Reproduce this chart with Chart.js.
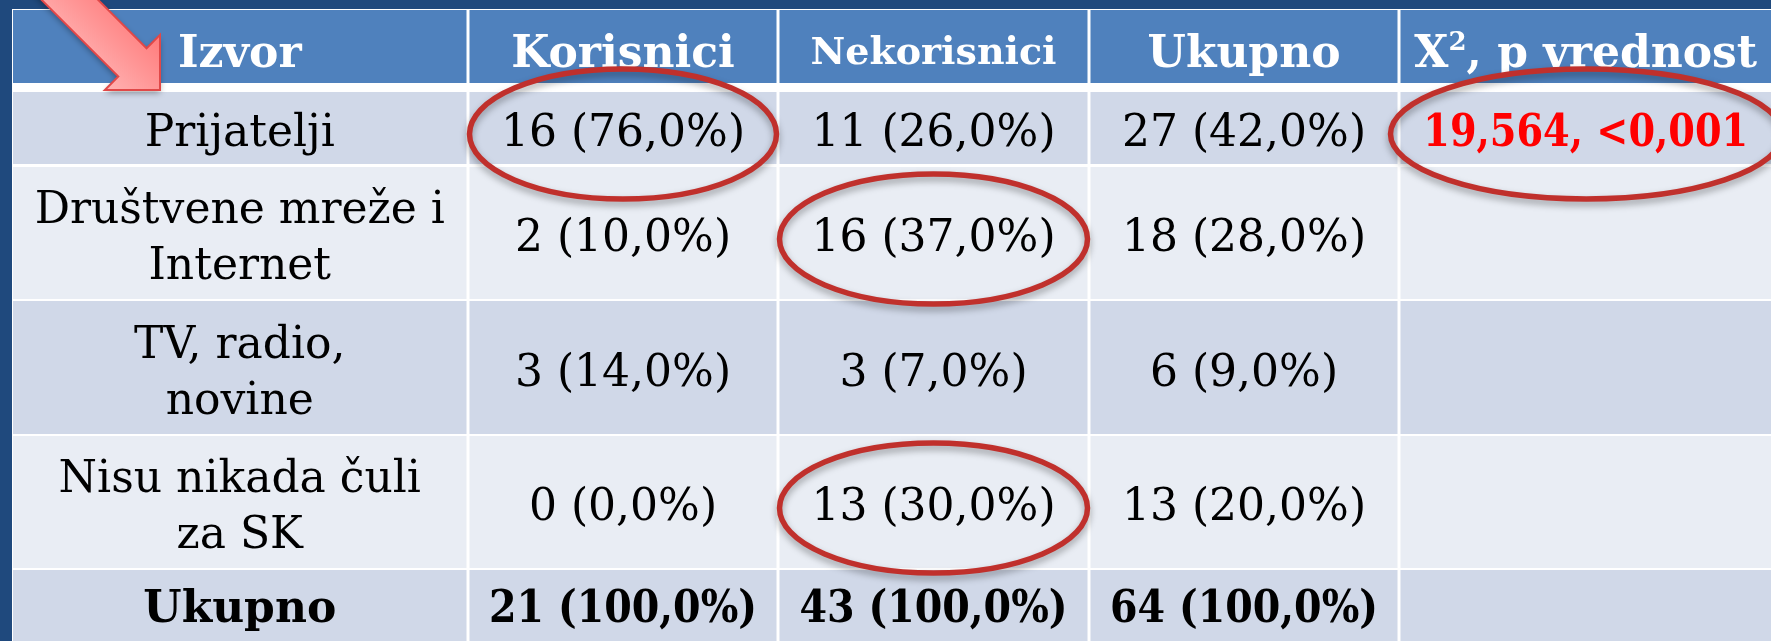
<!DOCTYPE html>
<html>
<head>
<meta charset="utf-8">
<script src="https://cdn.jsdelivr.net/npm/chart.js@4.4.0/dist/chart.umd.min.js"></script>
<style>
  html, body { margin: 0; padding: 0; background: #1f497d; overflow: hidden; }
  canvas { display: block; }
</style>
</head>
<body>
<canvas id="tabela" width="1771" height="641"></canvas>
<script>
// podaci iz tabele
const headers = ["Izvor", "Korisnici", "Nekorisnici", "Ukupno", "X², p vrednost"];
const sources = ["Prijatelji", "Društvene mreže i\nInternet", "TV, radio,\nnovine", "Nisu nikada čuli\nza SK", "Ukupno"];
const korisnici = [16, 2, 3, 0, 21];
const korisniciPct = [76.0, 10.0, 14.0, 0.0, 100.0];
const nekorisnici = [11, 16, 3, 13, 43];
const nekorisniciPct = [26.0, 37.0, 7.0, 30.0, 100.0];
const ukupno = [27, 18, 6, 13, 64];
const ukupnoPct = [42.0, 28.0, 9.0, 20.0, 100.0];
const hiKvadrat = ["19,564, <0,001", "", "", "", ""];
// zaokruzene celije [red, kolona], red 1 = Prijatelji
const istaknuto = [[1, 1], [2, 2], [4, 2], [1, 4]];

// raspored (u jedinicama skale)
const colEdges = [13, 468, 778, 1089, 1399, 1800];
const rowBands = [[10, 83], [92, 164], [167, 299], [301, 434], [436, 568], [570, 680]];

function fmt(n, p) {
  return n + " (" + p.toFixed(1).replace(".", ",") + "%)";
}

const FONT = "'DejaVu Serif', serif";

function cellRect(chart, r, c) {
  const x = chart.scales.x, y = chart.scales.y;
  const x0 = x.getPixelForValue(colEdges[c]) + (c > 0 ? 1.5 : 0);
  const x1 = x.getPixelForValue(colEdges[c + 1]) - 1.5;
  const y0 = y.getPixelForValue(rowBands[r][0]);
  const y1 = y.getPixelForValue(rowBands[r][1]);
  return { x0, x1, y0, y1, cx: (x0 + x1) / 2, cy: (y0 + y1) / 2 };
}

function drawLines(ctx, text, cx, cy, size, bold, color, maxW) {
  const lines = text.split("\n");
  const lh = size * 1.27;
  const cap = size * 0.73;
  ctx.font = (bold ? "bold " : "") + size + "px " + FONT;
  ctx.fillStyle = color;
  ctx.textAlign = "center";
  ctx.textBaseline = "alphabetic";
  const off = (lines.length - 1) * lh / 2;
  lines.forEach((ln, i) => {
    ctx.fillText(ln, cx, cy - off + i * lh + cap / 2, maxW);
  });
}

function drawHeader(ctx, text, cx, cy, size) {
  ctx.font = "bold " + size + "px " + FONT;
  ctx.fillStyle = "#ffffff";
  ctx.textBaseline = "alphabetic";
  const cap = size * 0.73;
  const base = cy + cap / 2;
  if (text.indexOf("²") < 0) {
    ctx.textAlign = "center";
    ctx.fillText(text, cx, base);
    return;
  }
  const parts = text.split("²");
  const supFont = "bold " + Math.round(size * 0.6) + "px " + FONT;
  const w1 = ctx.measureText(parts[0]).width;
  const w3 = ctx.measureText(parts[1]).width;
  ctx.font = supFont;
  const w2 = ctx.measureText("2").width;
  let x = cx - (w1 + w2 + w3) / 2;
  ctx.textAlign = "left";
  ctx.font = "bold " + size + "px " + FONT;
  ctx.fillText(parts[0], x, base);
  x += w1;
  ctx.font = supFont;
  ctx.fillText("2", x, base - size * 0.38);
  x += w2;
  ctx.font = "bold " + size + "px " + FONT;
  ctx.fillText(parts[1], x, base);
}

const tablePlugin = {
  id: "tabela",
  beforeDraw(chart) {
    const ctx = chart.ctx;
    const x = chart.scales.x, y = chart.scales.y;
    ctx.save();
    ctx.fillStyle = "#1f497d";
    ctx.fillRect(0, 0, chart.width, chart.height);
    // bela osnova (linije)
    ctx.fillStyle = "#ffffff";
    ctx.fillRect(x.getPixelForValue(colEdges[0]) - 1, y.getPixelForValue(rowBands[0][0]) - 1,
      chart.width, chart.height);

    const cols = [
      sources,
      korisnici.map((n, i) => fmt(n, korisniciPct[i])),
      nekorisnici.map((n, i) => fmt(n, nekorisniciPct[i])),
      ukupno.map((n, i) => fmt(n, ukupnoPct[i])),
      hiKvadrat
    ];

    for (let r = 0; r < rowBands.length; r++) {
      for (let c = 0; c < headers.length; c++) {
        const rc = cellRect(chart, r, c);
        if (r === 0) ctx.fillStyle = "#4f81bd";
        else ctx.fillStyle = r % 2 === 1 ? "#d0d8e8" : "#e9edf4";
        ctx.fillRect(rc.x0, rc.y0, rc.x1 - rc.x0, rc.y1 - rc.y0);
      }
    }

    // zaglavlje
    headers.forEach((h, c) => {
      const rc = cellRect(chart, 0, c);
      const size = c === 2 ? 38 : 44;
      const cx = c === 4 ? (rc.x0 + x.getPixelForValue(1771)) / 2 : rc.cx;
      drawHeader(ctx, h, cx, rc.cy + 4, size);
    });

    // telo tabele
    for (let r = 1; r < rowBands.length; r++) {
      const last = r === rowBands.length - 1;
      const rowY = last ? (rowBands[r][0] + 641) / 2 : null;
      for (let c = 0; c < headers.length; c++) {
        const txt = cols[c][r - 1];
        if (!txt) continue;
        const rc = cellRect(chart, r, c);
        const cy = last ? y.getPixelForValue(rowY) : rc.cy + 2;
        let cx = rc.cx;
        let color = "#000000";
        let bold = last;
        let maxW = last && c > 0 ? 268 : undefined;
        if (c === 4) {
          cx = (rc.x0 + x.getPixelForValue(1771)) / 2;
          color = "#ff0000";
          bold = true;
          maxW = 325;
        }
        drawLines(ctx, txt, cx, cy, 44, bold, color, maxW);
      }
    }
    ctx.restore();
  },
  afterDraw(chart) {
    const ctx = chart.ctx;
    const x = chart.scales.x;
    ctx.save();

    // strelica
    const tip = [160, 90];
    const head = 39, half = 39, shaft = 20, len = 260;
    const d = [Math.SQRT1_2, Math.SQRT1_2];
    const p = [Math.SQRT1_2, -Math.SQRT1_2];
    const bx = tip[0] - d[0] * head, by = tip[1] - d[1] * head;
    const pts = [
      tip,
      [bx + p[0] * half, by + p[1] * half],
      [bx + p[0] * shaft, by + p[1] * shaft],
      [bx + p[0] * shaft - d[0] * len, by + p[1] * shaft - d[1] * len],
      [bx - p[0] * shaft - d[0] * len, by - p[1] * shaft - d[1] * len],
      [bx - p[0] * shaft, by - p[1] * shaft],
      [bx - p[0] * half, by - p[1] * half]
    ];
    const g = ctx.createLinearGradient(bx - p[0] * half, by - p[1] * half, bx + p[0] * half, by + p[1] * half);
    g.addColorStop(0, "#ffb3b3");
    g.addColorStop(1, "#ff7a7a");
    ctx.beginPath();
    pts.forEach((pt, i) => (i ? ctx.lineTo(pt[0], pt[1]) : ctx.moveTo(pt[0], pt[1])));
    ctx.closePath();
    ctx.shadowColor = "rgba(0,0,0,0.35)";
    ctx.shadowBlur = 6;
    ctx.shadowOffsetY = 3;
    ctx.fillStyle = g;
    ctx.fill();
    ctx.shadowColor = "transparent";
    ctx.strokeStyle = "#e04848";
    ctx.lineWidth = 2;
    ctx.stroke();

    // elipse
    istaknuto.forEach(([r, c]) => {
      const rc = cellRect(chart, r, c);
      let x0 = rc.x0, x1 = rc.x1;
      if (c === headers.length - 1) {
        x0 -= 10;
        x1 = x.getPixelForValue(1782);
      }
      ctx.beginPath();
      ctx.ellipse((x0 + x1) / 2, rc.cy + 6, (x1 - x0) / 2, 65, 0, 0, Math.PI * 2);
      ctx.shadowColor = "rgba(0,0,0,0.35)";
      ctx.shadowBlur = 7;
      ctx.shadowOffsetY = 4;
      ctx.strokeStyle = "#c0302c";
      ctx.lineWidth = 5.5;
      ctx.stroke();
    });
    ctx.restore();
  }
};

new Chart(document.getElementById("tabela"), {
  type: "scatter",
  data: { datasets: [] },
  options: {
    responsive: false,
    animation: false,
    devicePixelRatio: 1,
    layout: { padding: 0 },
    plugins: { legend: { display: false }, tooltip: { enabled: false } },
    scales: {
      x: { type: "linear", min: 0, max: 1771, display: false },
      y: { type: "linear", min: 0, max: 641, reverse: true, display: false }
    }
  },
  plugins: [tablePlugin]
});
</script>
</body>
</html>
